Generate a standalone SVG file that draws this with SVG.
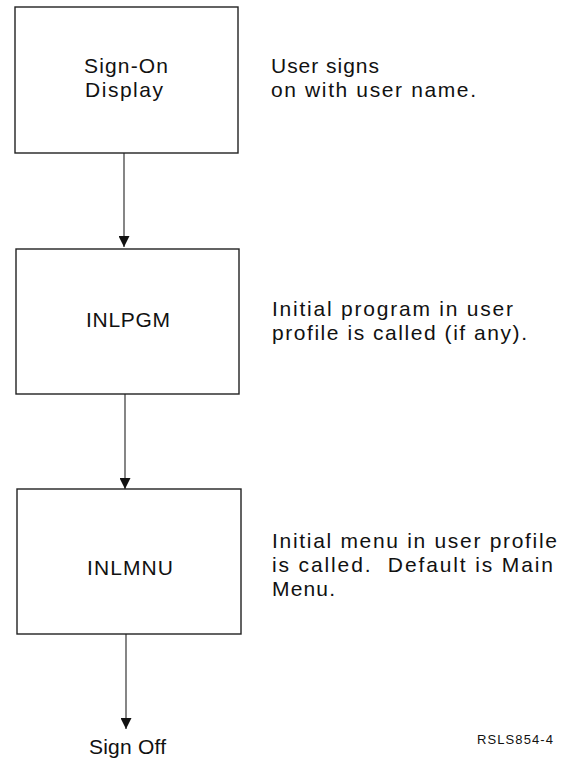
<svg xmlns="http://www.w3.org/2000/svg" width="567" height="758" viewBox="0 0 567 758">
  <style>
    .box { fill: #fff; stroke: #222; stroke-width: 1.4; }
    .lbl { font-family: "Liberation Sans", Arial, sans-serif; font-size: 21px; fill: #111; }
    .edge { stroke: #222; stroke-width: 1.1; fill: none; marker-end: url(#arrow); }
    .tag { font-family: "Liberation Sans", Arial, sans-serif; font-size: 13px; fill: #111; }
  </style>
  <defs>
    <marker id="arrow" viewBox="0 0 11 11" refX="11" refY="5.5" markerWidth="11" markerHeight="11" markerUnits="userSpaceOnUse" orient="auto">
      <path d="M0,0 L11,5.5 L0,11 Z" fill="#111"/>
    </marker>
  </defs>

  <rect width="567" height="758" fill="#fff"/>

  <!-- connectors -->
  <g id="connectors">
    <line class="edge" x1="124" y1="153" x2="124" y2="247"/>
    <line class="edge" x1="125" y1="394" x2="125" y2="489"/>
    <line class="edge" x1="126" y1="634" x2="126" y2="729"/>
  </g>

  <g id="sign-on">
    <rect class="box" x="15" y="7" width="223" height="146"/>
    <text class="lbl" x="84" y="73" textLength="84" lengthAdjust="spacing">Sign-On</text>
    <text class="lbl" x="85" y="97" textLength="78" lengthAdjust="spacing">Display</text>
    <text class="lbl" x="271" y="73" textLength="108" lengthAdjust="spacing">User signs</text>
    <text class="lbl" x="271" y="97" textLength="205" lengthAdjust="spacing">on with user name.</text>
  </g>

  <g id="inlpgm">
    <rect class="box" x="16" y="249" width="223" height="145"/>
    <text class="lbl" x="86" y="327" textLength="84" lengthAdjust="spacing">INLPGM</text>
    <text class="lbl" x="272" y="316" textLength="241" lengthAdjust="spacing">Initial program in user</text>
    <text class="lbl" x="272" y="340" textLength="255" lengthAdjust="spacing">profile is called (if any).</text>
  </g>

  <g id="inlmnu">
    <rect class="box" x="17" y="489" width="224" height="145"/>
    <text class="lbl" x="87" y="575" textLength="86" lengthAdjust="spacing">INLMNU</text>
    <text class="lbl" x="272" y="548" textLength="285" lengthAdjust="spacing">Initial menu in user profile</text>
    <text class="lbl" x="272" y="572" textLength="281" lengthAdjust="spacing" xml:space="preserve">is called.  Default is Main</text>
    <text class="lbl" x="272" y="596" textLength="63" lengthAdjust="spacing">Menu.</text>
  </g>

  <g id="sign-off">
    <text class="lbl" x="89" y="754" textLength="77" lengthAdjust="spacing">Sign Off</text>
  </g>

  <text class="tag" x="477" y="744" textLength="76" lengthAdjust="spacing">RSLS854-4</text>
</svg>
